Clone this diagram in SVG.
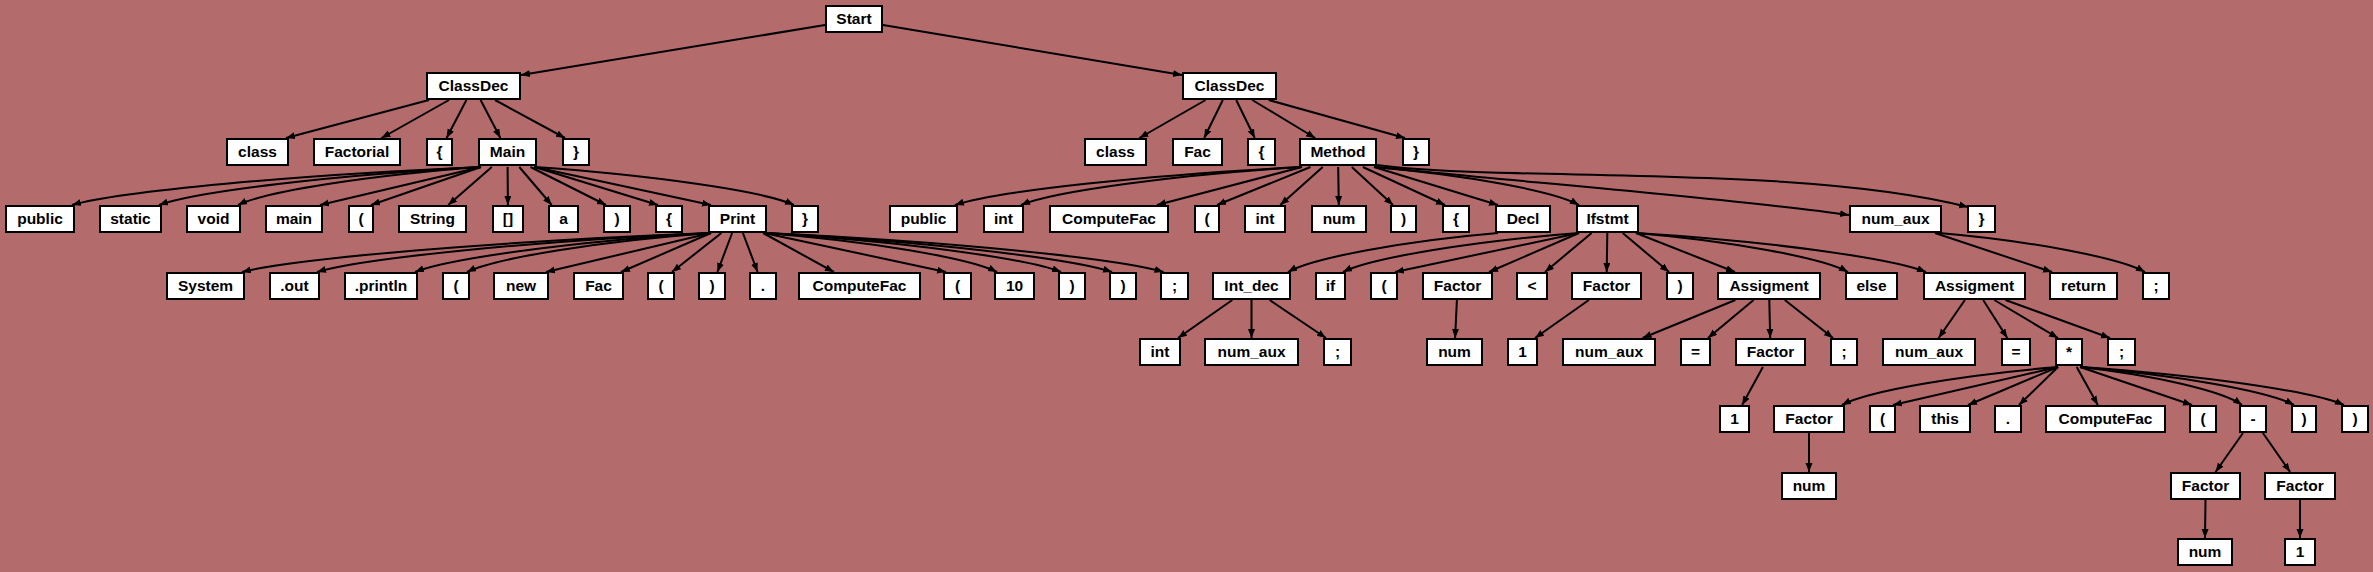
<svg xmlns="http://www.w3.org/2000/svg" width="2373" height="572" viewBox="0 0 2373 572">
<style>
.n rect{fill:#fff;stroke:#000;stroke-width:2}
.n text{font-family:"Liberation Sans",Arial,sans-serif;font-size:15.5px;font-weight:bold;text-anchor:middle;fill:#000}
#edges path{fill:none;stroke:#000;stroke-width:2;marker-end:url(#ah)}
</style>
<defs>
<marker id="ah" markerWidth="10" markerHeight="8" refX="9" refY="3.5" orient="auto" markerUnits="userSpaceOnUse"><path d="M0,0 L9,3.5 L0,7 z" fill="#000"/></marker>
</defs>
<rect x="0" y="0" width="2373" height="572" fill="#b36b6b"/>
<g id="edges">
<path d="M825 25 L521 75"/>
<path d="M883 25 L1182 75"/>
<path d="M429 100 L286 138"/>
<path d="M449 100 L381.5 138"/>
<path d="M466.4 100 L446.6 138"/>
<path d="M480.6 100 L500.4 138"/>
<path d="M495 100 L565 138"/>
<path d="M1205.6 100 L1139.4 138"/>
<path d="M1222.8 100 L1204.2 138"/>
<path d="M1236.2 100 L1254.8 138"/>
<path d="M1252.3 100 L1315.2 138"/>
<path d="M1268.7 100 L1405 138"/>
<path d="M481 167 C297 175 121 191 72 205"/>
<path d="M481 167 C336 175 198 191 159 205"/>
<path d="M481 167 C372 175 267 191 238 205"/>
<path d="M481 167 L320 205"/>
<path d="M481 167 L371 205"/>
<path d="M491.8 167 L448.2 205"/>
<path d="M507.6 167 L507.9 205"/>
<path d="M519.3 167 L551.7 205"/>
<path d="M530.5 167 L606 205"/>
<path d="M534.5 167 L658 205"/>
<path d="M534.5 167 L711 205"/>
<path d="M534.5 167 C651 175 763 191 794 205"/>
<path d="M711 233 C500 241 298 258 242 272"/>
<path d="M711 233 C534 241 364 258 317 272"/>
<path d="M711 233 C578 241 450.5 258 415 272"/>
<path d="M711 233 C601 241 496 258 467 272"/>
<path d="M711 233 L546 272"/>
<path d="M711 233 L621 272"/>
<path d="M721.4 233 L672 272"/>
<path d="M732.1 233 L717.4 272"/>
<path d="M742.9 233 L757.6 272"/>
<path d="M763.1 233 L833.9 272"/>
<path d="M764 233 L946 272"/>
<path d="M764 233 C869 241 969 258 997 272"/>
<path d="M764 233 C898 241 1025 258 1061 272"/>
<path d="M764 233 C921 241 1070 258 1112 272"/>
<path d="M764 233 C944 241 1115.5 258 1163.5 272"/>
<path d="M1302 167 C1146 175 997 191 955 205"/>
<path d="M1302 167 C1176 175 1055 191 1021 205"/>
<path d="M1302 167 L1157 205"/>
<path d="M1310.5 167 L1217 205"/>
<path d="M1322.7 167 L1280.3 205"/>
<path d="M1338.2 167 L1338.8 205"/>
<path d="M1351.8 167 L1393 205"/>
<path d="M1362.8 167 L1445 205"/>
<path d="M1374 167 L1498 205"/>
<path d="M1374 167 C1466 175 1554 191 1579 205"/>
<path d="M1377 167 C1500 180 1750 200 1849 215"/>
<path d="M1377 165 C1500 182 1800 164 1968 207"/>
<path d="M1498 233 C1403.5 241 1313 258 1288 272"/>
<path d="M1579 233 C1473 241 1371 258 1343 272"/>
<path d="M1579 233 L1395 272"/>
<path d="M1579 233 L1489 272"/>
<path d="M1591.6 233 L1545 272"/>
<path d="M1607.3 233 L1606.7 272"/>
<path d="M1622.7 233 L1669 272"/>
<path d="M1636 233 L1735 272"/>
<path d="M1636 233 C1731 241 1823 258 1848 272"/>
<path d="M1636 233 C1766.5 241 1891 258 1926 272"/>
<path d="M1935 233 L2052 272"/>
<path d="M1939 233 C2032 241 2120 258 2145 272"/>
<path d="M1232.3 300 L1178 338"/>
<path d="M1251.5 300 L1251.5 338"/>
<path d="M1269.6 300 L1326 338"/>
<path d="M1456.9 300 L1455.1 338"/>
<path d="M1588.9 300 L1535 338"/>
<path d="M1735.4 300 L1642.6 338"/>
<path d="M1753.6 300 L1708 338"/>
<path d="M1769.3 300 L1770.2 338"/>
<path d="M1784.8 300 L1833 338"/>
<path d="M1964.9 300 L1938.6 338"/>
<path d="M1983.2 300 L2007.3 338"/>
<path d="M1994.3 300 L2058 338"/>
<path d="M2005.4 300 L2110 338"/>
<path d="M1762.9 367 L1742.1 405"/>
<path d="M2058 367 C1961 375 1868 391 1842 405"/>
<path d="M2058 367 L1893 405"/>
<path d="M2058 367 L1968 405"/>
<path d="M2058 367 L2019 405"/>
<path d="M2076.7 367 L2097.8 405"/>
<path d="M2080 367 L2192 405"/>
<path d="M2080 367 C2153 375 2223 391 2242 405"/>
<path d="M2080 367 C2176 375 2268 391 2294 405"/>
<path d="M2080 367 C2199 375 2312 391 2344 405"/>
<path d="M1809 433 L1809 472"/>
<path d="M2243 433 L2215.5 472"/>
<path d="M2262.9 433 L2290.1 472"/>
<path d="M2205.5 500 L2205 538"/>
<path d="M2300 500 L2300 538"/>
</g>
<g id="n0" class="n"><rect x="826" y="6" width="56" height="26"/><text x="854" y="23.5">Start</text></g>
<g id="n1" class="n"><rect x="427" y="73" width="93" height="26"/><text x="473.5" y="90.5">ClassDec</text></g>
<g id="n2" class="n"><rect x="1183" y="73" width="93" height="26"/><text x="1229.5" y="90.5">ClassDec</text></g>
<g id="a1" class="n"><rect x="227" y="139" width="61" height="26"/><text x="257.5" y="156.5">class</text></g>
<g id="a2" class="n"><rect x="314" y="139" width="86" height="26"/><text x="357" y="156.5">Factorial</text></g>
<g id="a3" class="n"><rect x="427" y="139" width="25" height="26"/><text x="439.5" y="156.5">{</text></g>
<g id="a4" class="n"><rect x="479" y="139" width="57" height="26"/><text x="507.5" y="156.5">Main</text></g>
<g id="a5" class="n"><rect x="563" y="139" width="26" height="26"/><text x="576" y="156.5">}</text></g>
<g id="b1" class="n"><rect x="1085" y="139" width="61" height="26"/><text x="1115.5" y="156.5">class</text></g>
<g id="b2" class="n"><rect x="1173" y="139" width="49" height="26"/><text x="1197.5" y="156.5">Fac</text></g>
<g id="b3" class="n"><rect x="1248" y="139" width="27" height="26"/><text x="1261.5" y="156.5">{</text></g>
<g id="b4" class="n"><rect x="1300" y="139" width="76" height="26"/><text x="1338" y="156.5">Method</text></g>
<g id="b5" class="n"><rect x="1403" y="139" width="26" height="26"/><text x="1416" y="156.5">}</text></g>
<g id="m1" class="n"><rect x="6" y="206" width="68" height="26"/><text x="40" y="223.5">public</text></g>
<g id="m2" class="n"><rect x="100" y="206" width="61" height="26"/><text x="130.5" y="223.5">static</text></g>
<g id="m3" class="n"><rect x="187" y="206" width="53" height="26"/><text x="213.5" y="223.5">void</text></g>
<g id="m4" class="n"><rect x="266" y="206" width="56" height="26"/><text x="294" y="223.5">main</text></g>
<g id="m5" class="n"><rect x="349" y="206" width="24" height="26"/><text x="361" y="223.5">(</text></g>
<g id="m6" class="n"><rect x="399" y="206" width="67" height="26"/><text x="432.5" y="223.5">String</text></g>
<g id="m7" class="n"><rect x="493" y="206" width="30" height="26"/><text x="508" y="223.5">[]</text></g>
<g id="m8" class="n"><rect x="549" y="206" width="29" height="26"/><text x="563.5" y="223.5">a</text></g>
<g id="m9" class="n"><rect x="604" y="206" width="26" height="26"/><text x="617" y="223.5">)</text></g>
<g id="m10" class="n"><rect x="656" y="206" width="26" height="26"/><text x="669" y="223.5">{</text></g>
<g id="m11" class="n"><rect x="709" y="206" width="57" height="26"/><text x="737.5" y="223.5">Print</text></g>
<g id="m12" class="n"><rect x="792" y="206" width="26" height="26"/><text x="805" y="223.5">}</text></g>
<g id="q1" class="n"><rect x="890" y="206" width="67" height="26"/><text x="923.5" y="223.5">public</text></g>
<g id="q2" class="n"><rect x="984" y="206" width="39" height="26"/><text x="1003.5" y="223.5">int</text></g>
<g id="q3" class="n"><rect x="1050" y="206" width="118" height="26"/><text x="1109" y="223.5">ComputeFac</text></g>
<g id="q4" class="n"><rect x="1195" y="206" width="24" height="26"/><text x="1207" y="223.5">(</text></g>
<g id="q5" class="n"><rect x="1245" y="206" width="40" height="26"/><text x="1265" y="223.5">int</text></g>
<g id="q6" class="n"><rect x="1312" y="206" width="54" height="26"/><text x="1339" y="223.5">num</text></g>
<g id="q7" class="n"><rect x="1391" y="206" width="25" height="26"/><text x="1403.5" y="223.5">)</text></g>
<g id="q8" class="n"><rect x="1443" y="206" width="26" height="26"/><text x="1456" y="223.5">{</text></g>
<g id="q9" class="n"><rect x="1496" y="206" width="54" height="26"/><text x="1523" y="223.5">Decl</text></g>
<g id="q10" class="n"><rect x="1577" y="206" width="61" height="26"/><text x="1607.5" y="223.5">Ifstmt</text></g>
<g id="q11" class="n"><rect x="1850" y="206" width="91" height="26"/><text x="1895.5" y="223.5">num_aux</text></g>
<g id="q12" class="n"><rect x="1968" y="206" width="27" height="26"/><text x="1981.5" y="223.5">}</text></g>
<g id="p1" class="n"><rect x="167" y="273" width="77" height="26"/><text x="205.5" y="290.5">System</text></g>
<g id="p2" class="n"><rect x="270" y="273" width="49" height="26"/><text x="294.5" y="290.5">.out</text></g>
<g id="p3" class="n"><rect x="345" y="273" width="72" height="26"/><text x="381" y="290.5">.println</text></g>
<g id="p4" class="n"><rect x="443" y="273" width="26" height="26"/><text x="456" y="290.5">(</text></g>
<g id="p5" class="n"><rect x="494" y="273" width="54" height="26"/><text x="521" y="290.5">new</text></g>
<g id="p6" class="n"><rect x="574" y="273" width="49" height="26"/><text x="598.5" y="290.5">Fac</text></g>
<g id="p7" class="n"><rect x="648" y="273" width="26" height="26"/><text x="661" y="290.5">(</text></g>
<g id="p8" class="n"><rect x="699" y="273" width="26" height="26"/><text x="712" y="290.5">)</text></g>
<g id="p9" class="n"><rect x="750" y="273" width="26" height="26"/><text x="763" y="290.5">.</text></g>
<g id="p10" class="n"><rect x="799" y="273" width="121" height="26"/><text x="859.5" y="290.5">ComputeFac</text></g>
<g id="p11" class="n"><rect x="944" y="273" width="27" height="26"/><text x="957.5" y="290.5">(</text></g>
<g id="p12" class="n"><rect x="995" y="273" width="39" height="26"/><text x="1014.5" y="290.5">10</text></g>
<g id="p13" class="n"><rect x="1059" y="273" width="26" height="26"/><text x="1072" y="290.5">)</text></g>
<g id="p14" class="n"><rect x="1110" y="273" width="26" height="26"/><text x="1123" y="290.5">)</text></g>
<g id="p15" class="n"><rect x="1161" y="273" width="27" height="26"/><text x="1174.5" y="290.5">;</text></g>
<g id="r1" class="n"><rect x="1213" y="273" width="77" height="26"/><text x="1251.5" y="290.5">Int_dec</text></g>
<g id="r2" class="n"><rect x="1316" y="273" width="29" height="26"/><text x="1330.5" y="290.5">if</text></g>
<g id="r3" class="n"><rect x="1371" y="273" width="26" height="26"/><text x="1384" y="290.5">(</text></g>
<g id="r4" class="n"><rect x="1423" y="273" width="69" height="26"/><text x="1457.5" y="290.5">Factor</text></g>
<g id="r5" class="n"><rect x="1517" y="273" width="30" height="26"/><text x="1532" y="290.5">&lt;</text></g>
<g id="r6" class="n"><rect x="1572" y="273" width="69" height="26"/><text x="1606.5" y="290.5">Factor</text></g>
<g id="r7" class="n"><rect x="1667" y="273" width="26" height="26"/><text x="1680" y="290.5">)</text></g>
<g id="r8" class="n"><rect x="1718" y="273" width="102" height="26"/><text x="1769" y="290.5">Assigment</text></g>
<g id="r9" class="n"><rect x="1846" y="273" width="51" height="26"/><text x="1871.5" y="290.5">else</text></g>
<g id="r10" class="n"><rect x="1924" y="273" width="101" height="26"/><text x="1974.5" y="290.5">Assigment</text></g>
<g id="r11" class="n"><rect x="2050" y="273" width="67" height="26"/><text x="2083.5" y="290.5">return</text></g>
<g id="r12" class="n"><rect x="2143" y="273" width="26" height="26"/><text x="2156" y="290.5">;</text></g>
<g id="s1" class="n"><rect x="1140" y="339" width="40" height="26"/><text x="1160" y="356.5">int</text></g>
<g id="s2" class="n"><rect x="1205" y="339" width="93" height="26"/><text x="1251.5" y="356.5">num_aux</text></g>
<g id="s3" class="n"><rect x="1324" y="339" width="27" height="26"/><text x="1337.5" y="356.5">;</text></g>
<g id="s4" class="n"><rect x="1427" y="339" width="55" height="26"/><text x="1454.5" y="356.5">num</text></g>
<g id="s5" class="n"><rect x="1508" y="339" width="29" height="26"/><text x="1522.5" y="356.5">1</text></g>
<g id="s6" class="n"><rect x="1563" y="339" width="92" height="26"/><text x="1609" y="356.5">num_aux</text></g>
<g id="s7" class="n"><rect x="1681" y="339" width="29" height="26"/><text x="1695.5" y="356.5">=</text></g>
<g id="s8" class="n"><rect x="1736" y="339" width="69" height="26"/><text x="1770.5" y="356.5">Factor</text></g>
<g id="s9" class="n"><rect x="1831" y="339" width="26" height="26"/><text x="1844" y="356.5">;</text></g>
<g id="s10" class="n"><rect x="1883" y="339" width="92" height="26"/><text x="1929" y="356.5">num_aux</text></g>
<g id="s11" class="n"><rect x="2002" y="339" width="28" height="26"/><text x="2016" y="356.5">=</text></g>
<g id="s12" class="n"><rect x="2056" y="339" width="26" height="26"/><text x="2069" y="356.5">*</text></g>
<g id="s13" class="n"><rect x="2108" y="339" width="27" height="26"/><text x="2121.5" y="356.5">;</text></g>
<g id="t1" class="n"><rect x="1720" y="406" width="29" height="26"/><text x="1734.5" y="423.5">1</text></g>
<g id="t2" class="n"><rect x="1774" y="406" width="70" height="26"/><text x="1809" y="423.5">Factor</text></g>
<g id="t3" class="n"><rect x="1870" y="406" width="25" height="26"/><text x="1882.5" y="423.5">(</text></g>
<g id="t4" class="n"><rect x="1920" y="406" width="50" height="26"/><text x="1945" y="423.5">this</text></g>
<g id="t5" class="n"><rect x="1995" y="406" width="26" height="26"/><text x="2008" y="423.5">.</text></g>
<g id="t6" class="n"><rect x="2046" y="406" width="119" height="26"/><text x="2105.5" y="423.5">ComputeFac</text></g>
<g id="t7" class="n"><rect x="2190" y="406" width="26" height="26"/><text x="2203" y="423.5">(</text></g>
<g id="t8" class="n"><rect x="2240" y="406" width="26" height="26"/><text x="2253" y="423.5">-</text></g>
<g id="t9" class="n"><rect x="2292" y="406" width="24" height="26"/><text x="2304" y="423.5">)</text></g>
<g id="t10" class="n"><rect x="2342" y="406" width="26" height="26"/><text x="2355" y="423.5">)</text></g>
<g id="u1" class="n"><rect x="1782" y="473" width="54" height="26"/><text x="1809" y="490.5">num</text></g>
<g id="u2" class="n"><rect x="2171" y="473" width="69" height="26"/><text x="2205.5" y="490.5">Factor</text></g>
<g id="u3" class="n"><rect x="2265" y="473" width="70" height="26"/><text x="2300" y="490.5">Factor</text></g>
<g id="v1" class="n"><rect x="2178" y="539" width="54" height="26"/><text x="2205" y="556.5">num</text></g>
<g id="v2" class="n"><rect x="2285" y="539" width="30" height="26"/><text x="2300" y="556.5">1</text></g>
</svg>
